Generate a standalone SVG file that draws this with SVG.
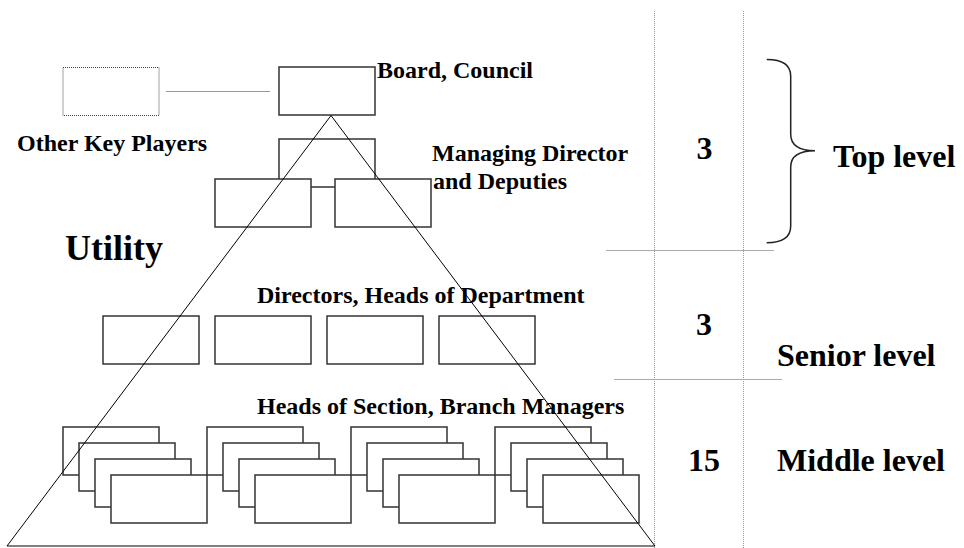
<svg xmlns="http://www.w3.org/2000/svg" width="964" height="548" viewBox="0 0 964 548">
<style>
.bx{fill:#fff;stroke:#333;stroke-width:1.5}
.lbl{font-family:"Liberation Serif","Times New Roman",serif;font-weight:bold;font-size:24px;fill:#000}
.big{font-family:"Liberation Serif","Times New Roman",serif;font-weight:bold;font-size:32px;fill:#000}
.vdot{stroke:#999;stroke-width:1;stroke-dasharray:1 1;fill:none}
.hgrey{stroke:#aaa;stroke-width:1;fill:none}
</style>
<defs>
<rect id="b" class="bx" width="96" height="48"/>
<g id="stack">
<use href="#b" x="0" y="0"/>
<use href="#b" x="16" y="16"/>
<use href="#b" x="32" y="32"/>
<use href="#b" x="48" y="48"/>
</g>
</defs>
<rect width="964" height="548" fill="#fff"/>

<g id="grid">
<line class="vdot" x1="654.5" y1="11" x2="654.5" y2="548"/>
<line class="vdot" x1="743.5" y1="11" x2="743.5" y2="548"/>
<line class="hgrey" x1="606" y1="250.5" x2="774" y2="250.5"/>
<line class="hgrey" x1="614" y1="379.5" x2="782" y2="379.5"/>
</g>

<g id="connectors">
<line x1="166" y1="91.5" x2="270" y2="91.5" stroke="#999" stroke-width="1"/>
</g>

<g id="other-key-players">
<rect x="63" y="67.5" width="96" height="48" fill="#fff" stroke="#444" stroke-width="1" stroke-dasharray="1 1"/>
<text class="lbl" x="17" y="151">Other Key Players</text>
</g>

<g id="board">
<use href="#b" x="279" y="67"/>
<text class="lbl" x="377" y="78">Board, Council</text>
</g>

<g id="managing-director">
<use href="#b" x="279" y="139"/>
<use href="#b" x="215" y="179"/>
<use href="#b" x="335" y="179"/>
<text class="lbl" x="432" y="161">Managing Director</text>
<text class="lbl" x="433" y="188.5">and Deputies</text>
</g>

<g id="directors">
<use href="#b" x="103" y="316"/>
<use href="#b" x="215" y="316"/>
<use href="#b" x="327" y="316"/>
<use href="#b" x="439" y="316"/>
<text class="lbl" x="257" y="303">Directors, Heads of Department</text>
</g>

<g id="section-heads">
<use href="#stack" x="63" y="427"/>
<use href="#stack" x="207" y="427"/>
<use href="#stack" x="351" y="427"/>
<use href="#stack" x="495" y="427"/>
<text class="lbl" x="257" y="414">Heads of Section, Branch Managers</text>
</g>

<g id="utility">
<polygon points="331,115.5 7,546 655,546" fill="none" stroke="#000" stroke-width="1"/>
<text x="65" y="260" font-family="Liberation Serif, Times New Roman, serif" font-weight="bold" font-size="36">Utility</text>
</g>

<g id="top-level">
<path d="M766.7,59.5 C782,59.5 790.7,64 790.7,76 L790.7,134 C790.7,146 800,150.7 815,150.7 C800,150.7 790.7,155 790.7,167 L790.7,226 C790.7,238 782,242.7 766.7,242.7" fill="none" stroke="#222" stroke-width="1.5"/>
<text class="big" x="704.5" y="159" text-anchor="middle">3</text>
<text class="big" x="833" y="167">Top level</text>
</g>

<g id="senior-level">
<text class="big" x="704" y="335" text-anchor="middle">3</text>
<text class="big" x="777" y="366">Senior level</text>
</g>

<g id="middle-level">
<text class="big" x="704" y="471" text-anchor="middle">15</text>
<text class="big" x="777" y="471">Middle level</text>
</g>
</svg>
